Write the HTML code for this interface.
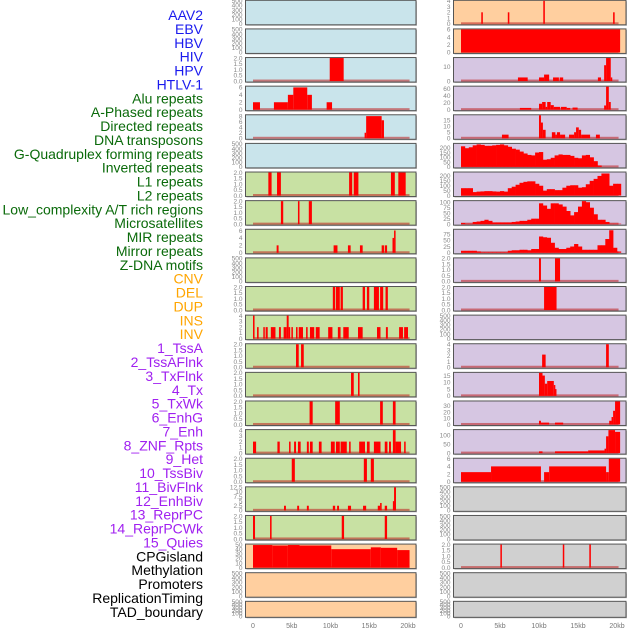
<!DOCTYPE html>
<html><head><meta charset="utf-8"><style>
html,body{margin:0;padding:0;background:#fff;width:630px;height:630px;overflow:hidden}
svg{display:block;font-family:"Liberation Sans",sans-serif}
</style></head><body>
<svg id="chart" width="630" height="630" viewBox="0 0 630 630"></svg>
<script>
const trackLabels=["AAV2","EBV","HBV","HIV","HPV","HTLV-1","Alu repeats","A-Phased repeats","Directed repeats","DNA transposons","G-Quadruplex forming repeats","Inverted repeats","L1 repeats","L2 repeats","Low_complexity A/T rich regions","Microsatellites","MIR repeats","Mirror repeats","Z-DNA motifs","CNV","DEL","DUP","INS","INV","1_TssA","2_TssAFlnk","3_TxFlnk","4_Tx","5_TxWk","6_EnhG","7_Enh","8_ZNF_Rpts","9_Het","10_TssBiv","11_BivFlnk","12_EnhBiv","13_ReprPC","14_ReprPCWk","15_Quies","CPGisland","Methylation","Promoters","ReplicationTiming","TAD_boundary"];
const labelGroups=[0,0,0,0,0,0,1,1,1,1,1,1,1,1,1,1,1,1,1,2,2,2,2,2,3,3,3,3,3,3,3,3,3,3,3,3,3,3,3,4,4,4,4,4];
const xTickLabels=["0","5kb","10kb","15kb","20kb"];
const xTickValues=[0,5,10,15,20];
const T500=[0,100,200,300,400,500];
const T2=[0,0.5,1,1.5,2];
// left column segments [startKb,endKb,value]
const L2=[[9.9,11.7,2]];
const L3=[[0,0.9,2],[2.7,4.5,2],[4.5,5.2,4],[5.2,7,6],[7,7.6,4],[9.5,10.2,2]];
const L4=[[14.4,14.6,2],[14.6,16.6,8],[16.6,16.9,6.5]];
const L6=[[1.98,2.4,2],[3.1,3.6,2],[12.4,12.8,2],[13.0,13.6,2],[17.8,18.3,2],[18.75,19.7,2]];
const L7=[[3.6,3.9,2],[5.8,6.0,2],[7.2,7.6,2]];
const L8=[[3.05,3.3,2],[10.4,10.9,2],[12.25,12.6,2],[13.8,14.15,2],[16.6,16.9,2],[17.0,17.3,2],[18.0,18.2,4],[18.2,18.4,6]];
const L10=[[10.3,10.6,2],[10.7,11.2,2],[11.3,11.6,2],[14.15,14.45,2],[14.7,15.0,2],[15.6,16.25,2],[16.4,16.8,2],[17.1,17.4,2]];
const L11=[[0,0.2,4],[0.52,0.73,2],[1.33,1.5,2],[1.63,1.9,2],[2.3,2.9,2],[3.35,3.6,2],[3.95,4.35,2],[4.35,4.6,4],[4.6,4.8,2],[4.95,5.15,2],[5.55,5.75,2],[5.9,6.45,2],[6.85,7.05,2],[7.35,7.9,2],[8.1,8.6,2],[9.7,10.25,2],[10.95,11.3,2],[11.65,12.35,2],[13.55,14.15,2],[16.0,16.45,2],[17.15,17.4,2],[18.85,19.35,2],[19.5,20,2]];
const L12=[[5.55,5.9,2],[6.2,6.55,2]];
const L13=[[12.65,13.0,2],[13.55,13.75,2]];
const L14=[[7.3,7.7,2],[10.6,11.2,2],[16.4,16.75,2],[18.05,18.4,2]];
const L15=[[0,0.4,2],[3.15,3.45,2],[4.65,4.85,2],[5.3,5.55,2],[5.8,6.15,2],[6.95,7.2,2],[7.35,7.7,2],[8.5,8.85,2],[10.05,10.55,2],[10.7,11.2,2],[11.3,12.1,2],[12.4,12.6,2],[13.7,14.45,2],[14.7,15.05,2],[15.6,16.45,2],[17.0,17.35,2],[17.55,17.8,2],[18.05,18.4,4],[18.4,19.1,2],[19.5,19.7,2]];
const L16=[[5.0,5.4,2],[14.3,14.7,2],[15.2,15.6,2]];
const L17=[[4.0,4.25,2.5],[5.7,5.95,2.5],[6.95,7.2,2.5],[10.3,10.6,2.5],[10.85,11.1,2.5],[12.25,12.65,2.5],[14.2,14.6,2.5],[16.1,16.4,2.5],[16.4,16.6,4],[17.0,17.3,2.5],[18.05,18.2,5],[18.2,18.45,12.5]];
const L18=[[0,0.26,2],[2.2,2.4,2],[11.45,11.75,2],[17.0,17.3,2]];
const L19=[[0,2.5,49],[2.5,4.5,48],[4.5,6,49],[6,10.1,48],[10.1,15.2,40],[15.2,16.5,44],[16.5,18.6,43],[18.6,20.2,38]];
// right column
const R0=[[2.6,2.8,2],[6.0,6.2,2],[10.55,10.75,4],[19.5,19.7,2]];
const R1=[[0,20.4,6]];
const R2=[[7.3,8.55,2.5],[10.0,10.65,2.5],[10.65,11.3,4.5],[11.8,12.55,2.5],[12.65,13.1,2.5],[17.55,17.95,2.5],[18.35,18.6,11],[18.6,19.2,16],[19.2,19.35,2.5]];
const R3=[[7.55,9.0,5],[10.0,10.4,17],[10.4,10.85,22],[10.85,11.05,8],[11.05,11.5,22],[11.5,11.9,13],[11.9,12.7,8],[12.8,13.55,8],[13.55,14.0,5],[14.3,14.95,6],[18.35,18.6,12],[18.6,18.95,66],[18.95,19.2,22]];
const R4=[[5.25,6.1,3],[10.0,10.25,19],[10.25,10.5,13],[10.5,10.85,7],[11.65,12.1,5],[12.1,12.3,3],[12.3,12.7,5],[12.7,13.35,3],[13.85,14.5,3],[14.5,14.75,5],[14.75,15.1,9],[15.1,15.4,7],[15.4,16.55,3],[17.3,17.8,3]];
const R5bins=[215,195,205,225,235,230,220,220,225,230,235,225,210,190,180,160,140,125,120,150,155,75,80,95,120,130,125,125,115,95,90,120,125,100,60,15,0,0,0,0,0];
const R6bins=[75,75,75,35,40,42,45,45,42,40,45,40,75,90,110,130,140,145,145,120,100,50,65,65,55,55,80,100,105,105,80,85,115,150,170,200,225,225,100,120,120];
const R7bins=[5,2,2,10,12,15,20,15,8,8,8,8,8,10,12,15,15,20,25,25,95,85,70,95,95,90,80,60,40,55,80,105,100,75,45,20,20,10,2,2,2];
const R8bins=[8,8,8,8,5,2,2,2,2,2,2,2,8,10,10,12,12,10,15,15,65,62,60,40,20,15,15,20,25,35,25,12,12,12,12,30,30,55,90,20,5];
const R9=[[10.0,10.25,2],[12.05,12.7,2]];
const R10=[[10.65,12.25,2]];
const R12=[[10.4,10.85,2.2],[18.6,18.95,4]];
const R13=[[10.0,10.45,17],[10.45,10.75,15],[10.75,11.05,9],[11.05,11.9,11],[11.9,12.05,8],[12.05,12.2,5]];
const R14=[[10.0,10.25,6],[10.25,11.3,3],[12.05,13.1,3],[19.0,19.3,6],[19.3,19.5,12],[19.5,19.75,22],[19.75,20.4,37]];
const R15=[[10.0,10.45,10],[12.05,16.3,10],[16.3,18.4,15],[18.4,18.6,25],[18.6,18.9,95],[18.9,19.75,130],[19.75,20.4,120]];
const R16=[[0,3.85,2.5],[3.85,10.25,4],[10.65,11.3,2.5],[11.3,18.6,4],[18.6,18.95,2.5],[18.95,20.4,6]];
const R19=[[5.05,5.2,2],[13.05,13.2,2],[16.45,16.65,2]];

const BLUE="#c9e4eb",ORANGE="#ffcf9f",PURPLE="#d6c6e2",GREEN="#c8e1a3",GRAY="#d0d0d0";
// panel defs: [bg, ymax, ticks, segs, bins]
const leftPanels=[
 [BLUE,500,T500,null],[BLUE,500,T500,null],[BLUE,2,T2,L2],[BLUE,6.2,[0,2,4,6],L3],[BLUE,8.3,[0,2,4,6,8],L4],[BLUE,500,T500,null],
 [GREEN,2,T2,L6],[GREEN,2,T2,L7],[GREEN,6.2,[0,2,4,6],L8],[GREEN,500,T500,null],[GREEN,2,T2,L10],[GREEN,4,[0,1,2,3,4],L11],
 [GREEN,2,T2,L12],[GREEN,2,T2,L13],[GREEN,2,T2,L14],[GREEN,4,[0,1,2,3,4],L15],[GREEN,2,T2,L16],[GREEN,12.5,[0,2.5,5,7.5,10,12.5],L17],
 [GREEN,2,T2,L18],[ORANGE,50,[0,10,20,30,40,50],L19],[ORANGE,500,T500,null],[ORANGE,500,T500,null]];
const rightPanels=[
 [ORANGE,4,[0,1,2,3,4],R0],[ORANGE,6,[0,2,4,6],R1],[PURPLE,16,[0,10],R2],[PURPLE,66,[0,20,40,60],R3],[PURPLE,19,[0,5,10,15],R4],
 [PURPLE,240,[0,50,100,150,200],null,R5bins],[PURPLE,235,[0,50,100,150,200],null,R6bins],[PURPLE,105,[0,25,50,75,100],null,R7bins],
 [PURPLE,92,[0,25,50,75],null,R8bins],[PURPLE,2,T2,R9],[PURPLE,2,T2,R10],[PURPLE,500,T500,null],[PURPLE,4,[0,1,2,3,4],R12],
 [PURPLE,17,[0,5,10,15],R13],[PURPLE,37,[0,10,20,30],R14],[PURPLE,130,[0,50,100],R15],[PURPLE,6,[0,2,4,6],R16],
 [GRAY,500,T500,null],[GRAY,500,T500,null],[GRAY,2,T2,R19],[GRAY,500,T500,null],[GRAY,500,T500,null]];

const NS="http://www.w3.org/2000/svg";
const svg=document.getElementById('chart');
function mk(tag,attrs,parent){const e=document.createElementNS(NS,tag);for(const k in attrs)e.setAttribute(k,attrs[k]);(parent||svg).appendChild(e);return e;}
const groupColors=["#1a1aee","#0a6a0a","#ffa500","#a020f0","#000000"];
trackLabels.forEach((t,i)=>{
  const e=mk('text',{x:203,y:15+i*13.88+5,'text-anchor':'end','font-size':'14',fill:groupColors[labelGroups[i]]});
  e.textContent=t;
  
  
});
const rowTop=r=>0.3+r*28.62;
const rowH=r=>r===21?16:24.5;
function drawPanel(p,r,side){
  const [bg,ymax,ticks,segs,bins]=p;
  const bx=side?453.5:245.5, bw=side?172.5:170.5;
  const x0=side?461:253, kx=side?7.8:7.75;
  const xs=kb=>x0+kb*kx;
  const top=rowTop(r),h=rowH(r),bot=top+h;
  const y=v=>bot-1-(v/ymax)*(h-1.5);
  const g=mk('g',{});
  
  
  mk('rect',{x:bx+1,y:top+1,width:bw,height:h,fill:'#bbb'},g);
  mk('rect',{x:bx,y:top,width:bw,height:h,fill:bg,stroke:'#555','stroke-width':1},g);
  ticks.forEach(tv=>{
    const t=mk('text',{x:bx-3,y:y(tv)+2.3,'text-anchor':'end','font-size':'6.5',fill:'#888'},g);
    t.textContent=String(tv===0&&ymax<=2?"0.0":(ymax<=2?tv.toFixed(1):tv));
    
    
  });
  if(segs||bins){
    const bl=mk('rect',{x:xs(0),y:y(0)-1.5,width:xs(20.2)-xs(0),height:2,fill:'rgba(190,30,30,0.55)'},g);
    
    
  }
  if(segs){segs.forEach(s=>{
    const a=xs(s[0]),b=Math.max(xs(s[1]),a+1.5);
    const v=Math.min(s[2],ymax);
    const rc=mk('rect',{x:a,y:y(v),width:b-a,height:y(0)-y(v),fill:'#ff0000'},g);
    
    
  });}
  if(bins){bins.forEach((v,i)=>{
    if(v<=0)return;
    const a=xs(i*0.5),b=xs((i+1)*0.5);
    const rc=mk('rect',{x:a,y:y(v),width:b-a+0.3,height:y(0)-y(v),fill:'#ff0000'},g);
    
    
  });}
}
leftPanels.forEach((p,r)=>drawPanel(p,r,0));
rightPanels.forEach((p,r)=>drawPanel(p,r,1));
[0,1].forEach(side=>{
  const x0=side?461:253,kx=side?7.8:7.75;
  xTickValues.forEach((v,i)=>{
    const t=mk('text',{x:x0+v*kx,y:628,'text-anchor':'middle','font-size':'7',fill:'#777'});
    t.textContent=xTickLabels[i];
    
    
  });
});
</script>
</body></html>
